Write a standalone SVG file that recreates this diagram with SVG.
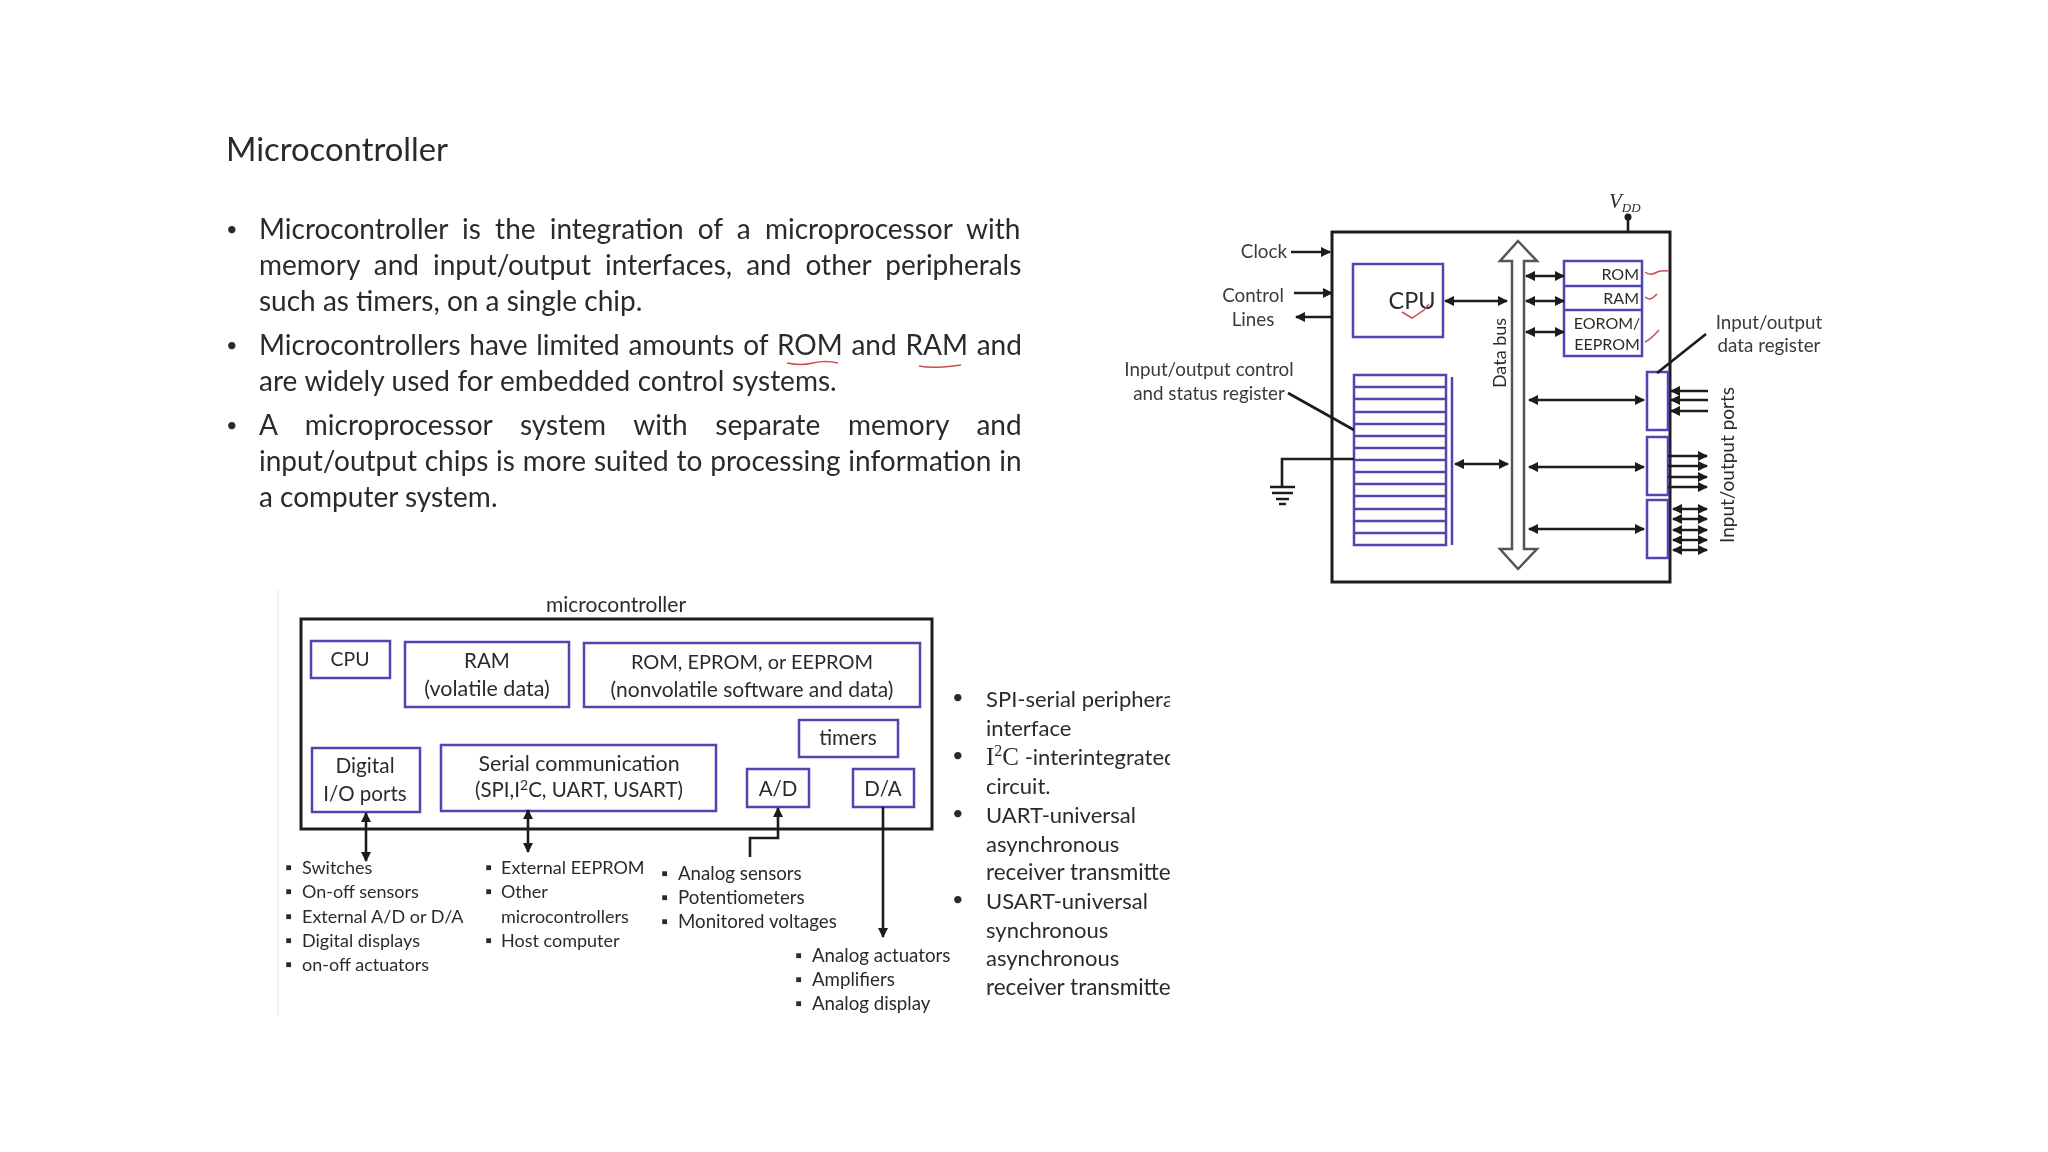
<svg xmlns="http://www.w3.org/2000/svg" width="2048" height="1152" viewBox="0 0 2048 1152">
<defs>
<marker id="a" markerWidth="4" markerHeight="4" refX="3.6" refY="2" orient="auto-start-reverse" markerUnits="strokeWidth"><path d="M0 0L4 2L0 4z" fill="#1a1a1a"/></marker>
<clipPath id="c"><rect x="940" y="670" width="230" height="340"/></clipPath>
<filter id="soft" x="0" y="0" width="100%" height="100%"><feGaussianBlur stdDeviation="0.5"/></filter>
</defs>
<style>
text{font-family:Lato,"Open Sans",sans-serif;fill:#2c2c2c}
.h{font-size:32.8px}.b{font-size:28px}.u{font-size:20px}.m{font-size:20.5px}.s{font-size:18px}.l{font-size:18.7px}.p{font-size:19px}.o{font-size:16px}.r{font-size:23.5px}.t{font-size:18.8px;fill:#3a3a3a}.z{font-size:22px}.y{font-size:22.5px}
.k{fill:#fff;stroke:#1f1f1f;stroke-width:3}
.n{fill:#fff;stroke:#5244b0;stroke-width:2.5}
.w{fill:none;stroke:#1a1a1a;stroke-width:2.6}
.e{marker-end:url(#a)}.d{marker-start:url(#a);marker-end:url(#a)}
.q{fill:none;stroke:#c8504f;stroke-width:1.5}
.mid{text-anchor:middle}
</style>
<rect width="2048" height="1152" fill="#fff"/>
<g id="slide" filter="url(#soft)">
<text class="h" x="226" y="161">Microcontroller</text>
<g id="bullets-text">
<text class="u" x="226" y="236">•</text>
<text class="b" x="259" y="239" word-spacing="7">Microcontroller is the integration of a microprocessor with</text>
<text class="b" x="259" y="275" word-spacing="6.9">memory and input/output interfaces, and other peripherals</text>
<text class="b" x="259" y="311">such as timers, on a single chip.</text>
<text class="u" x="226" y="352">•</text>
<text class="b" x="259" y="355" word-spacing="1.6">Microcontrollers have limited amounts of ROM and RAM and</text>
<text class="b" x="259" y="391" word-spacing="0.5">are widely used for embedded control systems.</text>
<text class="u" x="226" y="432">•</text>
<text class="b" x="259" y="435" word-spacing="20.6">A microprocessor system with separate memory and</text>
<text class="b" x="259" y="471" word-spacing="0.65">input/output chips is more suited to processing information in</text>
<text class="b" x="259" y="507">a computer system.</text>
</g>
<path class="q" d="M787 363q14 3 26 0t25 0M919 366q14 3 42 -1"/>
<g id="mcu-right">
<rect id="chip" class="k" x="1332" y="232" width="338" height="350"/>
<g id="cpu2"><rect class="n" x="1353" y="264" width="90" height="73"/><text class="r mid" x="1412" y="309">CPU</text></g>
<g id="mem"><rect class="n" x="1564" y="261" width="78" height="95"/><path class="n" d="M1564 286H1642M1564 310H1642"/>
<text class="o" x="1639" y="280" text-anchor="end">ROM</text><text class="o" x="1639" y="304" text-anchor="end">RAM</text><text class="o mid" x="1607" y="329">EOROM/</text><text class="o mid" x="1607" y="350">EEPROM</text></g>
<g id="regs"><rect class="n" x="1354" y="375" width="92" height="170"/>
<path class="n" d="M1354 387H1446M1354 399H1446M1354 412H1446M1354 424H1446M1354 436H1446M1354 448H1446M1354 460H1446M1354 472H1446M1354 484H1446M1354 496H1446M1354 509H1446M1354 521H1446M1354 533H1446M1452 377V545"/></g>
<g id="bus"><path d="M1518 241L1537 261H1524V549H1537L1518 569L1500 549H1512V261H1500z" fill="#fff" stroke="#555" stroke-width="2.5"/><text class="s" transform="translate(1506 353) rotate(-90)" text-anchor="middle">Data bus</text></g>
<g id="ports"><rect class="n" x="1647" y="372" width="21" height="58"/><rect class="n" x="1647" y="437" width="21" height="58"/><rect class="n" x="1647" y="500" width="21" height="58"/></g>
<g id="conn">
<path class="w e" d="M1291 252H1330"/><path class="w e" d="M1294 293H1332"/><path class="w e" d="M1332 317H1296"/>
<path class="w" d="M1628 232V217"/><circle cx="1628" cy="217" r="3.5" fill="#1a1a1a"/>
<path class="w d" d="M1445 301H1507"/><path class="w d" d="M1526 276H1564"/><path class="w d" d="M1526 301H1564"/><path class="w d" d="M1526 332H1564"/>
<path class="w d" d="M1455 464H1508"/><path class="w d" d="M1529 400H1644"/><path class="w d" d="M1529 467H1644"/><path class="w d" d="M1529 529H1644"/>
<path class="w e" d="M1708 391H1671"/><path class="w e" d="M1708 400H1671"/><path class="w e" d="M1708 411H1671"/>
<path class="w e" d="M1668 456H1707"/><path class="w e" d="M1668 466H1707"/><path class="w e" d="M1668 477H1707"/><path class="w e" d="M1668 487H1707"/>
<path class="w d" d="M1673 509H1707"/><path class="w d" d="M1673 519H1707"/><path class="w d" d="M1673 530H1707"/><path class="w d" d="M1673 540H1707"/><path class="w d" d="M1673 550H1707"/>
<path class="w" d="M1288 393L1354 430M1354 459H1282V487M1270 487H1295M1272 493H1293M1276 499H1289M1279 504H1286M1706 334L1657 373"/>
</g>
<path class="q" d="M1402 312l10 6 12 -8 5 -6M1645 272q5 4 10 1t13 -2M1645 297q5 5 12 -3M1645 342q5 -2 14 -12"/>
<text class="t" x="1287" y="258" text-anchor="end">Clock</text>
<text class="t mid" x="1253" y="302">Control</text><text class="t mid" x="1253" y="326">Lines</text>
<text class="t mid" x="1209" y="376">Input/output control</text><text class="t mid" x="1209" y="400">and status register</text>
<text class="t mid" x="1769" y="329">Input/output</text><text class="t mid" x="1769" y="352">data register</text>
<text class="p" transform="translate(1734 465) rotate(-90)" text-anchor="middle">Input/output ports</text>
<text x="1609" y="208" font-style="italic" font-size="21" style="font-family:'Liberation Serif',serif">V<tspan font-size="13" dy="4">DD</tspan></text>
</g>
<g id="mcu-left">
<path d="M278 590V1016" stroke="#eee" stroke-width="1.5"/>
<text class="mid" x="616" y="612" font-size="21">microcontroller</text>
<rect id="mcu" class="k" x="301" y="619" width="631" height="210"/>
<g id="cpu"><rect class="n" x="311" y="641" width="79" height="37"/><text class="mid" font-size="19.5" x="350" y="666">CPU</text></g>
<g id="ram"><rect class="n" x="405" y="642" width="164" height="65"/><text class="m mid" x="487" y="668">RAM</text><text class="mid" font-size="21.5" x="487" y="696">(volatile data)</text></g>
<g id="rom"><rect class="n" x="584" y="643" width="336" height="64"/><text class="mid" font-size="20" x="752" y="669">ROM, EPROM, or EEPROM</text><text class="mid" font-size="21" x="752" y="697">(nonvolatile software and data)</text></g>
<g id="timers"><rect class="n" x="799" y="720" width="99" height="37"/><text class="mid" font-size="20.9" x="848" y="745">timers</text></g>
<g id="digital"><rect class="n" x="312" y="748" width="108" height="64"/><text class="mid" font-size="20.8" x="365" y="773">Digital</text><text class="m mid" x="365" y="801">I/O ports</text></g>
<g id="serial"><rect class="n" x="441" y="745" width="275" height="66" stroke-width="3"/><text class="mid" font-size="21.4" x="579" y="771">Serial communication</text><text class="m mid" x="579" y="797">(SPI,I<tspan font-size="14" dy="-7">2</tspan><tspan dy="7">C, UART, USART)</tspan></text></g>
<g id="ad"><rect class="n" x="747" y="769" width="62" height="38"/><text class="m mid" x="778" y="796">A/D</text></g>
<g id="da"><rect class="n" x="853" y="769" width="61" height="38"/><text class="m mid" x="883" y="796">D/A</text></g>
<g id="conn2"><path class="w d" d="M366 813V861"/><path class="w d" d="M528 810V852"/><path class="w e" d="M750 857V838H778V808"/><path class="w e" d="M883 807V937"/></g>
<g id="lists">
<text class="s" x="285" y="874">▪</text><text class="s" x="302" y="874">Switches</text>
<text class="s" x="285" y="898">▪</text><text class="s" x="302" y="898">On-off sensors</text>
<text class="s" x="285" y="923">▪</text><text class="s" x="302" y="923">External A/D or D/A</text>
<text class="s" x="285" y="947">▪</text><text class="s" x="302" y="947">Digital displays</text>
<text class="s" x="285" y="971">▪</text><text class="s" x="302" y="971">on-off actuators</text>
<text class="s" x="485" y="874">▪</text><text class="s" x="501" y="874">External EEPROM</text>
<text class="s" x="485" y="898">▪</text><text class="s" x="501" y="898">Other</text>
<text class="s" x="501" y="923">microcontrollers</text>
<text class="s" x="485" y="947">▪</text><text class="s" x="501" y="947">Host computer</text>
<text class="s" x="661" y="880">▪</text><text class="l" x="678" y="880">Analog sensors</text>
<text class="s" x="661" y="904">▪</text><text class="l" x="678" y="904">Potentiometers</text>
<text class="s" x="661" y="928">▪</text><text class="l" x="678" y="928">Monitored voltages</text>
<text class="s" x="795" y="962">▪</text><text class="l" x="812" y="962">Analog actuators</text>
<text class="s" x="795" y="986">▪</text><text class="l" x="812" y="986">Amplifiers</text>
<text class="s" x="795" y="1010">▪</text><text class="l" x="812" y="1010">Analog display</text>
</g>
</g>
<g id="side" clip-path="url(#c)">
<text class="u" x="952" y="704">•</text><text class="z" x="986" y="707">SPI-serial peripheral</text>
<text class="z" x="986" y="736">interface</text>
<text class="u" x="952" y="762">•</text><text class="z" x="986" y="765"><tspan font-size="25" style="font-family:'Liberation Serif',serif">I<tspan font-size="16" dy="-9">2</tspan><tspan dy="9">C</tspan></tspan> -interintegrated</text>
<text class="z" x="986" y="794">circuit.</text>
<text class="u" x="952" y="820">•</text><text class="z" x="986" y="823">UART-universal</text>
<text class="z" x="986" y="852">asynchronous</text>
<text class="y" x="986" y="880">receiver transmitter</text>
<text class="u" x="952" y="906">•</text><text class="z" x="986" y="909">USART-universal</text>
<text class="z" x="986" y="938">synchronous</text>
<text class="z" x="986" y="966">asynchronous</text>
<text class="y" x="986" y="995">receiver transmitter</text>
</g>
</g>
</svg>
